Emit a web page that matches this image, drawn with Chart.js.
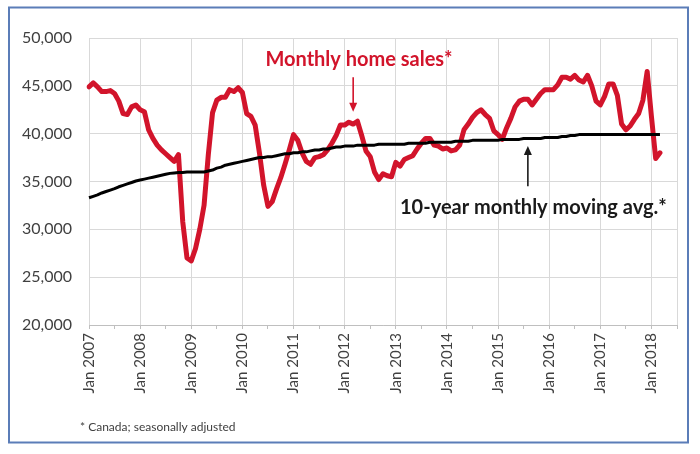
<!DOCTYPE html>
<html><head><meta charset="utf-8">
<script src="https://cdn.jsdelivr.net/npm/chart.js@4.4.1/dist/chart.umd.min.js"></script>
<style>html,body{margin:0;padding:0;background:#fff;}#wrap{width:700px;height:454px;}</style>
</head><body><div id="wrap"><canvas id="c" width="700" height="454"></canvas></div>
<script>
const years = [2007,2008,2009,2010,2011,2012,2013,2014,2015,2016,2017,2018];
const monthNames = ['Jan','Feb','Mar','Apr','May','Jun','Jul','Aug','Sep','Oct','Nov','Dec'];
const axisMonthsIn2018 = 7; // axis runs to Jul 2018

const homeSales = [
  44900,45300,44900,44400,44400,44500,44200,43400,42100,42000,42800,43000,
  42500,42300,40400,39500,38800,38300,37900,37500,37100,37800,30800,27000,
  26700,28000,30000,32500,37800,42200,43500,43800,43800,44600,44400,44800,
  44300,42100,41800,40900,38000,34600,32400,32900,34200,35400,36800,38300,
  39900,39300,38000,37100,36800,37500,37600,37800,38300,39000,39800,40900,
  40900,41200,41000,41300,39800,38200,37600,36000,35200,35800,35600,35500,
  37000,36600,37300,37500,37700,38400,39000,39500,39500,38800,38700,38400,
  38500,38200,38300,38800,40400,41000,41700,42200,42500,42000,41600,40300,
  39900,39400,40600,41600,42800,43400,43600,43600,43000,43600,44200,44600,
  44600,44600,45100,45900,45900,45700,46100,45600,45400,46100,45000,43400,
  43000,43900,45200,45200,44000,41000,40400,40800,41500,42100,43500,46500,
  41800,37400,38000
];
const movingAvg = [
  33300,33450,33600,33800,33950,34100,34250,34450,34600,34750,34900,35050,
  35150,35250,35350,35450,35550,35650,35750,35850,35900,35950,35950,36000,
  36000,36000,36000,36000,36100,36200,36400,36500,36700,36800,36900,37000,
  37100,37200,37300,37400,37500,37500,37600,37600,37700,37800,37900,37900,
  38000,38000,38100,38100,38200,38300,38300,38400,38400,38500,38600,38600,
  38700,38700,38700,38800,38800,38800,38800,38800,38900,38900,38900,38900,
  38900,38900,38900,39000,39000,39000,39000,39000,39100,39100,39100,39100,
  39100,39100,39200,39200,39200,39200,39300,39300,39300,39300,39300,39300,
  39300,39400,39400,39400,39400,39400,39500,39500,39500,39500,39500,39600,
  39600,39600,39600,39700,39700,39800,39800,39900,39900,39900,39900,39900,
  39900,39900,39900,39900,39900,39900,39900,39900,39900,39900,39900,39900,
  39900,39900,39900
];
const yTicks = [20000,25000,30000,35000,40000,45000,50000];

const labels = [];
years.forEach(yr => {
  const n = yr === 2018 ? axisMonthsIn2018 : 12;
  for (let i = 0; i < n; i++) labels.push(monthNames[i] + ' ' + yr);
});
const lastIdx = labels.length - 1;

const RED = '#D2142B';
const GRID = '#D9D9D9';
const TXT = '#404040';

function arrow(ctx, x, yFrom, yTo, color) {
  ctx.strokeStyle = color; ctx.fillStyle = color; ctx.lineWidth = 1.6;
  const dir = yTo > yFrom ? 1 : -1;
  ctx.beginPath(); ctx.moveTo(x, yFrom); ctx.lineTo(x, yTo - dir * 7); ctx.stroke();
  ctx.beginPath(); ctx.moveTo(x, yTo); ctx.lineTo(x - 4, yTo - dir * 9); ctx.lineTo(x + 4, yTo - dir * 9); ctx.closePath(); ctx.fill();
}

const annot = {
  id: 'annot',
  beforeDraw(chart) {
    const c = chart.ctx; c.save(); c.fillStyle = '#fff'; c.fillRect(0, 0, chart.width, chart.height); c.restore();
  },
  afterDraw(chart) {
    const c = chart.ctx, x = chart.scales.x, y = chart.scales.y;
    c.save();
    c.textBaseline = 'middle';
    c.font = 'bold 20px Lato';
    c.fillStyle = RED; c.textAlign = 'center';
    c.fillText('Monthly home sales*', 359, 60);
    arrow(c, x.getPixelForValue(62), y.getPixelForValue(45900), y.getPixelForValue(42300), RED);
    c.fillStyle = '#1a1a1a'; c.textAlign = 'left';
    c.fillText('10-year monthly moving avg.*', 400, 208);
    arrow(c, x.getPixelForValue(103), y.getPixelForValue(34500), y.getPixelForValue(38700), '#1a1a1a');
    c.font = '12px Lato'; c.fillStyle = TXT;
    c.fillText('* Canada; seasonally adjusted', 80, 427);
    c.strokeStyle = '#5B7DB8'; c.lineWidth = 2;
    c.strokeRect(9, 7.5, 679, 435);
    c.restore();
  }
};

new Chart(document.getElementById('c'), {
  type: 'line',
  data: {
    labels: labels,
    datasets: [
      { label: '10-year monthly moving avg.', data: movingAvg, borderColor: '#000', borderWidth: 3, pointRadius: 0, tension: 0, order: 0, borderJoinStyle: 'round' },
      { label: 'Monthly home sales', data: homeSales, borderColor: RED, borderWidth: 5, pointRadius: 0, tension: 0, order: 1, borderJoinStyle: 'round', borderCapStyle: 'round' }
    ]
  },
  options: {
    responsive: false,
    animation: false,
    layout: { padding: { left: 0, top: 38, right: 23, bottom: 0 } },
    plugins: { legend: { display: false }, tooltip: { enabled: false } },
    scales: {
      x: {
        type: 'category',
        offset: false,
        afterFit(s) { s.height = 129; },
        border: { color: '#BFBFBF', width: 1 },
        grid: {
          color: ctx => (ctx.index % 12 === 0 || ctx.index === lastIdx) ? GRID : 'rgba(0,0,0,0)',
          tickColor: ctx => (ctx.index % 6 === 0) ? '#BFBFBF' : 'rgba(0,0,0,0)',
          tickLength: 4,
          lineWidth: 1
        },
        ticks: {
          autoSkip: false, maxRotation: 90, minRotation: 90, padding: 4,
          color: TXT, font: { family: 'Lato', size: 15 },
          callback: (v, i) => (i % 12 === 0 ? labels[i] : '')
        }
      },
      y: {
        min: yTicks[0], max: yTicks[yTicks.length - 1],
        afterFit(s) { s.width = 89; },
        afterBuildTicks(s) { s.ticks = yTicks.map(v => ({ value: v })); },
        border: { display: false },
        grid: { color: GRID, drawTicks: false, lineWidth: 1 },
        ticks: {
          padding: 17, color: TXT, font: { family: 'Lato', size: 16 },
          callback: v => v.toLocaleString('en-US')
        }
      }
    }
  },
  plugins: [annot]
});
</script></body></html>
